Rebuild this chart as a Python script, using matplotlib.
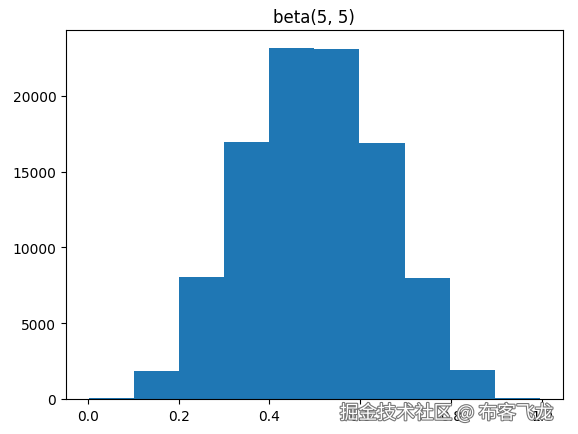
import numpy as np
import matplotlib.pyplot as plt
import matplotlib.patheffects as pe

# histogram of beta(5, 5) samples
bin_edges = [0.002, 0.1013, 0.2006, 0.2999, 0.3992, 0.4985,
             0.5978, 0.6971, 0.7964, 0.8957, 0.995]
counts = [75, 1860, 8050, 16930, 23190, 23110, 16860, 7970, 1900, 60]
title = "beta(5, 5)"
watermark = "掘金技术社区 @ 布客飞龙"

fig = plt.figure(figsize=(5.78, 4.35), dpi=100)
ax = fig.add_axes([66 / 578, 1 - 400 / 435, (562.5 - 66) / 578, (400 - 31) / 435])

ax.hist(bin_edges[:-1], bins=bin_edges, weights=counts, color='#1f77b4')
ax.set_title(title)

fig.text(0.588, 0.035, watermark, fontsize=13.5, color='white',
         family=['Noto Sans CJK SC', 'DejaVu Sans'],
         path_effects=[pe.withStroke(linewidth=1.6, foreground='#777777')])

fig.savefig('out.png', dpi=100)
